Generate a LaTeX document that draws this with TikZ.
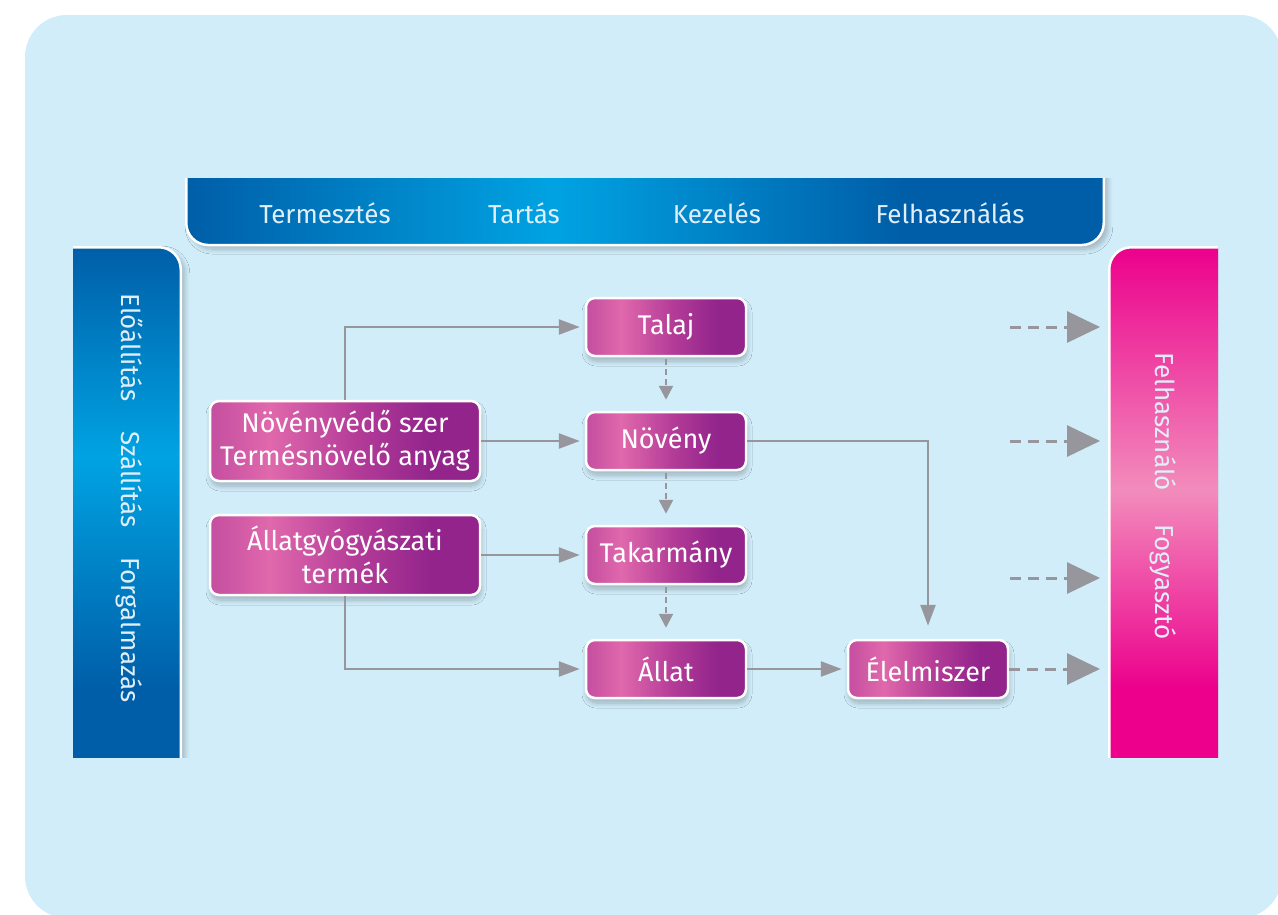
\documentclass[tikz,border=0pt]{standalone}
\usepackage{fontspec}
\setmainfont{Fira Sans}
\usetikzlibrary{positioning,arrows.meta,shadows.blur}

\definecolor{bgblue}{RGB}{209,237,250}
\definecolor{bluedark}{RGB}{0,94,168}
\definecolor{bluelight}{RGB}{0,163,226}
\definecolor{pinkdark}{RGB}{236,0,140}
\definecolor{pinklight}{RGB}{242,140,188}
\definecolor{purpledark}{RGB}{146,36,140}
\definecolor{purplelight}{RGB}{224,104,172}
\definecolor{purpleleft}{RGB}{196,78,160}
\definecolor{purplemid}{RGB}{180,60,152}
\definecolor{arrowgray}{RGB}{150,150,156}
\definecolor{bartext}{RGB}{225,238,248}

\pgfdeclarehorizontalshading{TOPSHADE}{100bp}{color(0bp)=(bluedark); color(25bp)=(bluedark); color(45bp)=(bluelight); color(64bp)=(bluedark); color(100bp)=(bluedark)}
\pgfdeclareverticalshading{LEFTSHADE}{100bp}{color(0bp)=(bluedark); color(35bp)=(bluedark); color(56bp)=(bluelight); color(75bp)=(bluedark); color(100bp)=(bluedark)}
\pgfdeclareverticalshading{RIGHTSHADE}{100bp}{color(0bp)=(pinkdark); color(35bp)=(pinkdark); color(53bp)=(pinklight); color(75bp)=(pinkdark); color(100bp)=(pinkdark)}
\pgfdeclarehorizontalshading{BOXSHADE}{100bp}{color(0bp)=(purpleleft); color(25bp)=(purpleleft); color(36bp)=(purplelight); color(52bp)=(purplemid); color(66bp)=(purpledark); color(100bp)=(purpledark)}

\begin{document}
\begin{tikzpicture}[x=1pt,y=-1pt,node distance=114pt,
  box/.style={draw=white,line width=2.5pt,rounded corners=9pt,shading=BOXSHADE,text=white,
    font=\fontsize{27}{33}\selectfont,align=center,minimum width=160pt,minimum height=58pt,
    blur shadow={shadow xshift=1pt,shadow yshift=-5pt,shadow blur radius=5pt,shadow blur steps=10,shadow opacity=25}},
  widebox/.style={box,minimum width=270pt,minimum height=80pt},
  bar/.style={draw=white,line width=2.5pt,rounded corners=22pt,
    blur shadow={shadow xshift=4pt,shadow yshift=-4pt,shadow blur radius=5pt,shadow blur steps=10,shadow opacity=25}},
  bartext/.style={text=bartext,font=\fontsize{26}{30}\selectfont},
  flow/.style={draw=arrowgray,line width=2.5pt,-{Triangle[length=21pt,width=15pt]},shorten >=5pt},
  dflow/.style={draw=arrowgray,line width=2.5pt,dash pattern=on 6pt off 4pt,-{Triangle[length=14pt,width=14pt]},shorten >=11pt,shorten <=2pt},
  bigflow/.style={draw=arrowgray,line width=3pt,dash pattern=on 11pt off 7pt,-{Triangle[length=33pt,width=31pt]},shorten >=8pt}]
\useasboundingbox (0,0) rectangle (1278,914);
\fill[bgblue,rounded corners=42pt] (25,15) rectangle (1282,918);

% bars
\begin{scope}
\clip (170,178) rectangle (1120,262);
\node[bar,shading=TOPSHADE,minimum width=917.5pt,minimum height=130pt] (TOP) at (645,180) {};
\end{scope}
\begin{scope}
\clip (73,236) rectangle (200,757);
\node[bar,shading=LEFTSHADE,minimum width=159.5pt,minimum height=551.5pt] (LEFTBAR) at (101,523) {};
\end{scope}
\begin{scope}
\clip (1090,236) rectangle (1218,757);
\node[bar,shading=RIGHTSHADE,minimum width=189.5pt,minimum height=551.5pt] (RIGHTBAR) at (1204,523) {};
\end{scope}

\node[bartext] (TERM) at (325,213) {Termesztés};
\node[bartext] (TART) at (524,213) {Tartás};
\node[bartext] (KEZ) at (717,213) {Kezelés};
\node[bartext] (FELH) at (950,213) {Felhasználás};
\node[bartext,rotate=-90] (ELO) at (130,498) {Előállítás\hspace{30pt}Szállítás\hspace{30pt}Forgalmazás};
\node[bartext,rotate=-90] (FOGY) at (1163,496) {Felhasználó\hspace{34pt}Fogyasztó};

% boxes
\node[box] (TALAJ) at (666,327) {Talaj};
\node[box,below of=TALAJ] (NOVENY) {Növény};
\node[box,below of=NOVENY] (TAKAR) {Takarmány};
\node[box,below of=TAKAR] (ALLAT) {Állat};
\node[widebox,left of=NOVENY,xshift=-207pt] (SZER) {Növényvédő szer\\Termésnövelő anyag};
\node[widebox,below of=SZER] (GYOGY) {Állatgyógyászati\\termék};
\node[box,right of=ALLAT,xshift=148pt] (ELEL) {Élelmiszer};

% arrows
\draw[flow] (SZER.north) |- (TALAJ.west);
\draw[flow] (SZER.east) -- (NOVENY.west);
\draw[flow] (GYOGY.east) -- (TAKAR.west);
\draw[flow] (GYOGY.south) |- (ALLAT.west);
\draw[flow] (ALLAT.east) -- (ELEL.west);
\draw[flow,shorten >=13pt] (NOVENY.east) -| (ELEL.north);
\draw[dflow] (TALAJ.south) -- (NOVENY.north);
\draw[dflow] (NOVENY.south) -- (TAKAR.north);
\draw[dflow] (TAKAR.south) -- (ALLAT.north);

\coordinate (C1) at (1010,327);
\coordinate (C2) at (1010,441);
\coordinate (C3) at (1010,578);
\draw[bigflow] (C1) -- (RIGHTBAR.west |- C1);
\draw[bigflow] (C2) -- (RIGHTBAR.west |- C2);
\draw[bigflow] (C3) -- (RIGHTBAR.west |- C3);
\draw[bigflow] (ELEL.east) -- (RIGHTBAR.west |- ELEL.east);
\end{tikzpicture}
\end{document}
